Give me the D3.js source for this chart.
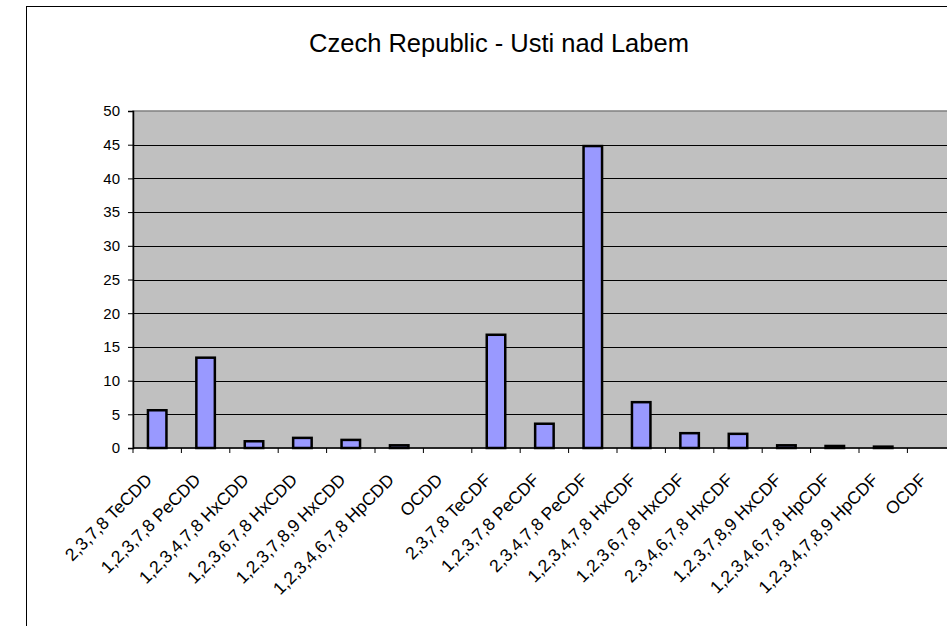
<!DOCTYPE html>
<html>
<head>
<meta charset="utf-8">
<script src="https://cdn.jsdelivr.net/npm/d3@7"></script>
<style>
  body { margin: 0; background: #fff; }
  svg { display: block; font-family: "Liberation Sans", Arial, sans-serif; }
</style>
</head>
<body>
<svg id="chart" width="947" height="626"></svg>
<script>
const title = "Czech Republic - Usti nad Labem";

const categories = [
  "2,3,7,8 TeCDD", "1,2,3,7,8 PeCDD", "1,2,3,4,7,8 HxCDD", "1,2,3,6,7,8 HxCDD",
  "1,2,3,7,8,9 HxCDD", "1,2,3,4,6,7,8 HpCDD", "OCDD", "2,3,7,8 TeCDF",
  "1,2,3,7,8 PeCDF", "2,3,4,7,8 PeCDF", "1,2,3,4,7,8 HxCDF", "1,2,3,6,7,8 HxCDF",
  "2,3,4,6,7,8 HxCDF", "1,2,3,7,8,9 HxCDF", "1,2,3,4,6,7,8 HpCDF",
  "1,2,3,4,7,8,9 HpCDF", "OCDF"
];

const values = [5.6, 13.4, 1.0, 1.5, 1.2, 0.4, 0, 16.8, 3.6, 44.8, 6.8, 2.2, 2.1, 0.4, 0.3, 0.2, 0];

const yTicks = [0, 5, 10, 15, 20, 25, 30, 35, 40, 45, 50];

const svg = d3.select("#chart");

// outer chart frame (runs past the right and bottom edges)
svg.append("rect")
  .attr("x", 26.5).attr("y", 6.5)
  .attr("width", 1000).attr("height", 700)
  .attr("fill", "#fff").attr("stroke", "#000").attr("stroke-width", 1);

svg.append("text")
  .attr("x", 499).attr("y", 51.5)
  .attr("text-anchor", "middle")
  .attr("font-size", 25.5)
  .attr("fill", "#000")
  .text(title);

const plotLeft = 133, plotTop = 111, plotBottom = 448;
const step = 48.4;
const plotRight = plotLeft + step * categories.length;

const x = d3.scaleBand()
  .domain(categories)
  .range([plotLeft, plotRight])
  .padding(0);

const y = d3.scaleLinear()
  .domain([0, 50])
  .range([plotBottom, plotTop]);

// plot area
svg.append("rect")
  .attr("x", plotLeft).attr("y", plotTop)
  .attr("width", plotRight - plotLeft).attr("height", plotBottom - plotTop)
  .attr("fill", "#c0c0c0").attr("stroke", "#808080").attr("stroke-width", 1.5);

// gridlines
svg.append("g")
  .selectAll("line")
  .data(yTicks.filter(d => d > 0 && d < 50))
  .enter()
  .append("line")
  .attr("x1", plotLeft).attr("x2", plotRight)
  .attr("y1", d => Math.round(y(d)) + 0.5).attr("y2", d => Math.round(y(d)) + 0.5)
  .attr("stroke", "#000").attr("stroke-width", 1);

// bars
const barW = 18.5;
svg.append("g")
  .selectAll("rect")
  .data(values)
  .enter()
  .append("rect")
  .attr("x", (d, i) => x(categories[i]) + (x.bandwidth() - barW) / 2)
  .attr("y", d => y(d))
  .attr("width", barW)
  .attr("height", d => plotBottom - y(d))
  .attr("fill", "#9999ff")
  .attr("stroke", "#000")
  .attr("stroke-width", 2.5)
  .style("display", d => d > 0 ? null : "none");

// y axis
const yAxis = svg.append("g")
  .attr("transform", "translate(" + plotLeft + ",0)")
  .call(d3.axisLeft(y).tickValues(yTicks).tickSize(5).tickPadding(8));
yAxis.select(".domain").attr("stroke-width", 1.5);
yAxis.selectAll("text")
  .attr("font-size", 15)
  .attr("font-family", "Liberation Sans, Arial, sans-serif")
  .attr("fill", "#000");

// x axis: ticks at category boundaries
const xAxis = svg.append("g");
xAxis.append("line")
  .attr("x1", plotLeft).attr("x2", plotRight)
  .attr("y1", plotBottom).attr("y2", plotBottom)
  .attr("stroke", "#000").attr("stroke-width", 1.5);
xAxis.selectAll("line.tick")
  .data(categories)
  .enter()
  .append("line")
  .attr("class", "tick")
  .attr("x1", d => x(d)).attr("x2", d => x(d))
  .attr("y1", plotBottom).attr("y2", plotBottom + 5)
  .attr("stroke", "#000").attr("stroke-width", 1);

xAxis.selectAll("text")
  .data(categories)
  .enter()
  .append("text")
  .attr("transform", d => "translate(" + (x(d) + x.bandwidth() / 2 - 4) + "," + (plotBottom + 33) + ")rotate(-45)")
  .attr("text-anchor", "end")
  .attr("font-size", 17.5)
  .attr("fill", "#000")
  .text(d => d);
</script>
</body>
</html>
